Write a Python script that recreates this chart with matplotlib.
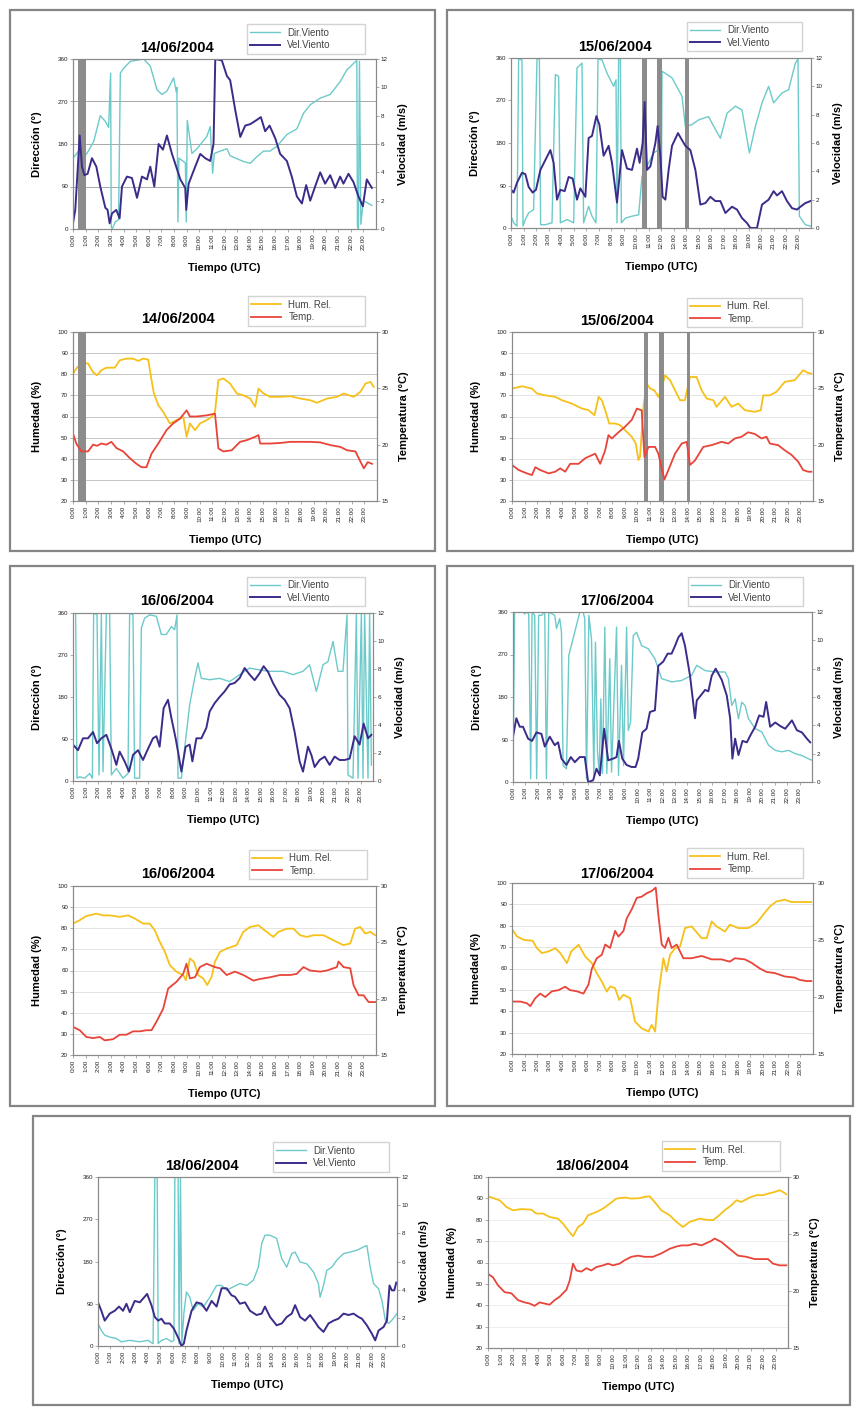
import matplotlib
matplotlib.use("Agg")
import matplotlib.pyplot as plt
from matplotlib.patches import Rectangle

plt.rcParams['font.family'] = ['Liberation Sans', 'DejaVu Sans']

W, H = 863, 1408

hours = list(range(24))
hour_labels = ['%d:00' % h for h in hours]

# ---- 14/06/2004 ----
d14_vel_t = [0, 0.18, 0.53, 0.71, 0.9, 1.16, 1.5, 1.85, 2.16, 2.56, 2.74, 2.9, 3.09, 3.43, 3.69, 3.88, 4.27, 4.67,
             5.07, 5.46, 5.86, 6.12, 6.44, 6.78, 7.12, 7.44, 7.84, 8.1, 8.5, 8.89, 8.97, 9.16, 9.68, 10.08, 10.47,
             10.87, 11.13, 11.27, 11.79, 12.19, 12.45, 12.85, 13.25, 13.64, 14.04, 14.56, 14.88, 15.22, 15.57, 16.02,
             16.41, 16.94, 17.33, 17.73, 18.13, 18.47, 18.79, 19.18, 19.58, 19.97, 20.37, 20.77, 21.16, 21.42, 21.82,
             22.22, 22.61, 22.96, 23.27, 23.67]
d14_vel = [0.4, 1.35, 6.6, 4.4, 3.8, 3.9, 5.0, 4.4, 3.0, 1.5, 1.35, 0.4, 1.1, 1.35, 0.75, 3.0, 3.7, 3.6, 2.2, 3.7,
           3.5, 4.4, 3.0, 6.0, 5.6, 6.6, 5.3, 4.6, 3.5, 2.9, 1.35, 3.2, 4.4, 5.3, 5.0, 4.8, 6.0, 12.0, 11.9, 10.8,
           10.5, 8.4, 6.5, 7.3, 7.4, 7.7, 7.9, 6.9, 7.3, 6.4, 5.3, 4.8, 3.7, 2.3, 1.8, 3.1, 2.0, 3.0, 4.0, 3.2,
           3.8, 2.9, 3.7, 3.2, 3.9, 3.3, 2.3, 1.6, 3.5, 2.9]
d14_dir_t = [0, 0.45, 0.71, 1.1, 1.64, 2.16, 2.56, 2.82, 2.98, 3.03, 3.11, 3.35, 3.61, 3.75, 4.0, 4.54, 5.6, 6.12,
             6.65, 7.04, 7.44, 7.97, 8.18, 8.23, 8.31, 8.39, 8.9, 8.97, 9.05, 9.42, 9.82, 10.6, 10.87, 11.06, 11.19,
             11.66, 12.19, 12.45, 13.5, 14.04, 14.56, 15.1, 15.6, 16.15, 16.94, 17.73, 18.26, 18.79, 19.58, 20.37,
             21.16, 21.69, 22.48, 22.53, 22.61, 22.69, 22.8, 23.0, 23.67]
d14_dir = [150, 165, 150, 160, 185, 240, 228, 215, 330, 5, 0, 15, 20, 330, 340, 355, 360, 345, 295, 285, 292, 320,
           290, 300, 15, 150, 140, 15, 230, 160, 170, 196, 217, 118, 160, 165, 170, 155, 143, 139, 153, 165, 165,
           175, 200, 212, 245, 263, 277, 285, 312, 337, 357, 5, 0, 355, 10, 60, 50]
d14_hum_t = [0, 0.26, 0.66, 1.19, 1.58, 1.9, 2.24, 2.64, 3.3, 3.69, 4.22, 4.75, 5.15, 5.54, 5.94, 6.2, 6.39, 6.73,
             7.12, 7.65, 8.18, 8.71, 8.97, 9.23, 9.63, 10.03, 10.55, 10.95, 11.21, 11.48, 11.87, 12.4, 12.93, 13.46,
             13.98, 14.38, 14.64, 15.04, 15.57, 16.36, 17.15, 17.94, 18.73, 19.26, 20.05, 20.84, 21.37, 22.16, 22.69,
             23.09, 23.48, 23.75]
d14_hum = [80.3, 82.7, 85.4, 85.1, 81, 79.5, 81.9, 83.1, 83.1, 86.6, 87.4, 87.4, 86.3, 87.4, 86.9, 77.2, 70.9, 65.4,
           62.2, 56.7, 58.3, 59.8, 50.4, 56.7, 53.5, 56.7, 58.3, 59.8, 62.2, 77.2, 78, 75.6, 70.9, 70, 68.5, 64.6,
           73.2, 70.9, 69.3, 69.3, 69.6, 68.5, 67.7, 66.5, 68.5, 69.3, 70.9, 69.3, 71.7, 75.6, 76.4, 74]
d14_tmp_t = [0, 0.26, 0.66, 1.19, 1.58, 1.9, 2.24, 2.64, 3.03, 3.43, 3.96, 4.49, 5.01, 5.41, 5.8, 6.2, 6.73, 7.39,
             7.92, 8.44, 8.97, 9.23, 9.76, 10.55, 11.21, 11.48, 11.87, 12.53, 13.19, 13.72, 14.38, 14.64, 14.78,
             15.57, 16.36, 17.15, 17.94, 18.73, 19.53, 20.32, 21.11, 21.64, 22.3, 22.69, 22.96, 23.27, 23.61]
d14_tmp = [21.0, 20.1, 19.4, 19.4, 20.0, 19.9, 20.1, 20.0, 20.25, 19.7, 19.4, 18.8, 18.3, 18.0, 18.0, 19.2, 20.1,
           21.3, 21.9, 22.3, 23.05, 22.5, 22.5, 22.6, 22.75, 19.66, 19.4, 19.5, 20.25, 20.4, 20.7, 20.85, 20.1, 20.1,
           20.15, 20.25, 20.25, 20.25, 20.2, 19.96, 19.8, 19.5, 19.4, 18.5, 17.9, 18.45, 18.3]
d14_bars = [(0.4, 1.0)]

# ---- 15/06/2004 ----
d15_vel_t = [0, 0.21, 0.48, 0.88, 1.15, 1.41, 1.73, 2.0, 2.35, 2.75, 3.15, 3.41, 3.68, 3.95, 4.29, 4.61, 4.93, 5.28,
             5.55, 5.95, 6.21, 6.48, 6.83, 7.07, 7.41, 7.81, 8.08, 8.48, 8.88, 9.28, 9.68, 10.08, 10.29, 10.53, 10.69,
             10.88, 11.15, 11.55, 11.73, 11.95, 12.13, 12.35, 12.61, 12.88, 13.36, 13.68, 13.95, 14.35, 14.75, 15.15,
             15.55, 15.95, 16.35, 16.75, 17.15, 17.68, 18.08, 18.48, 18.88, 19.15, 19.68, 20.08, 20.61, 21.01, 21.28,
             21.68, 22.08, 22.48, 22.88, 23.15, 23.55, 23.95]
d15_vel = [2.7, 2.5, 3.2, 3.9, 3.8, 2.9, 2.5, 2.7, 4.1, 4.8, 5.5, 4.6, 2.0, 2.7, 2.6, 3.6, 3.5, 2.0, 2.8, 2.2, 6.35,
           6.5, 7.9, 7.3, 5.1, 5.8, 4.6, 1.8, 5.5, 4.2, 4.1, 5.6, 4.6, 6.0, 8.9, 4.1, 4.35, 6.0, 7.2, 5.1, 2.2, 2.0,
           4.1, 5.8, 6.7, 6.2, 5.8, 5.5, 4.1, 1.65, 1.76, 2.2, 1.9, 1.9, 1.06, 1.5, 1.3, 0.7, 0.35, 0, 0, 1.65, 2.0,
           2.6, 2.3, 2.6, 1.9, 1.4, 1.3, 1.5, 1.76, 1.9]
d15_dir_t = [0, 0.21, 0.48, 0.61, 0.88, 0.96, 1.15, 1.41, 1.81, 2.08, 2.27, 2.37, 2.75, 3.28, 3.55, 3.81, 3.95, 4.48,
             5.01, 5.28, 5.68, 5.81, 6.21, 6.48, 6.8, 6.96, 7.28, 7.68, 8.21, 8.4, 8.48, 8.61, 8.75, 8.83, 9.15, 9.68,
             10.21, 10.48, 10.88, 11.41, 11.81, 12.03, 12.08, 12.88, 13.68, 13.95, 14.48, 15.01, 15.81, 16.08, 16.75,
             17.28, 17.95, 18.48, 19.07, 19.55, 20.08, 20.61, 21.01, 21.68, 22.21, 22.75, 22.96, 23.07, 23.55, 23.95]
d15_dir = [25, 11, 4, 358, 356, 4, 18, 32, 39, 358, 358, 7, 7, 11, 325, 321, 11, 18, 11, 339, 349, 11, 46, 25, 11,
           358, 356, 328, 300, 314, 11, 358, 358, 11, 21, 25, 28, 109, 131, 159, 166, 67, 332, 318, 279, 215, 219,
           229, 236, 222, 190, 243, 258, 250, 159, 215, 265, 300, 265, 286, 293, 349, 358, 25, 7, 4]
d15_hum_t = [0, 0.8, 1.59, 1.99, 2.65, 3.45, 3.98, 4.77, 5.57, 6.1, 6.58, 6.9, 7.16, 7.43, 7.75, 8.22, 8.62, 9.02,
             9.55, 9.87, 10.08, 10.21, 10.48, 10.74, 11.01, 11.35, 11.67, 11.88, 12.2, 12.6, 13.0, 13.4, 13.79, 14.19,
             14.72, 15.12, 15.52, 16.05, 16.31, 16.98, 17.51, 18.04, 18.57, 19.36, 19.84, 20.03, 20.56, 21.09, 21.75,
             22.55, 23.21, 23.61, 23.87]
d15_hum = [73.2, 74.3, 73.2, 70.9, 70, 69.3, 67.7, 66.1, 63.8, 63, 60.6, 69.3, 67.7, 63, 56.7, 56.7, 55.9, 53.5,
           50.4, 47.2, 39.4, 41, 64.6, 75.6, 73.2, 72.4, 69.3, 72.4, 79.5, 77.2, 72.4, 67.7, 67.7, 78.7, 78.7, 72.4,
           68.5, 67.7, 64.6, 69.3, 64.6, 66.1, 63, 62.2, 63, 70, 70, 71.7, 76.4, 77.2, 81.9, 80.6, 80.3]
d15_tmp_t = [0, 0.53, 1.19, 1.59, 1.86, 2.25, 2.92, 3.45, 3.85, 4.24, 4.64, 5.31, 5.84, 6.63, 7.03, 7.43, 7.69, 7.96,
             8.49, 9.02, 9.55, 9.95, 10.34, 10.56, 10.88, 11.41, 11.67, 12.15, 12.47, 13.0, 13.53, 13.93, 14.19,
             14.59, 15.25, 15.92, 16.71, 17.24, 17.77, 18.3, 18.83, 19.36, 19.89, 20.29, 20.56, 21.22, 21.75, 22.28,
             22.81, 23.21, 23.61, 23.87]
d15_tmp = [18.2, 17.75, 17.45, 17.3, 18.0, 17.75, 17.45, 17.6, 17.9, 17.6, 18.3, 18.3, 18.8, 19.2, 18.3, 19.5, 20.85,
           20.55, 21.1, 21.6, 22.2, 23.2, 23.05, 18.9, 19.8, 19.8, 19.2, 16.9, 17.75, 19.2, 20.1, 20.25, 18.2, 18.6,
           19.8, 19.96, 20.25, 20.1, 20.55, 20.7, 21.1, 20.95, 20.55, 20.7, 20.1, 19.96, 19.5, 19.1, 18.5, 17.75,
           17.6, 17.6]
d15_bars = [(10.5, 10.85), (11.7, 12.1), (13.92, 14.2)]

# ---- 16/06/2004 ----
d16_vel_t = [0, 0.4, 0.8, 1.2, 1.6, 1.92, 2.27, 2.67, 3.07, 3.47, 3.73, 4.13, 4.48, 4.8, 5.2, 5.6, 6.0, 6.4, 6.67,
             6.93, 7.25, 7.6, 7.87, 8.21, 8.4, 8.67, 9.01, 9.33, 9.55, 9.87, 10.27, 10.67, 10.93, 11.33, 11.73, 12.13,
             12.53, 12.93, 13.33, 13.73, 14.13, 14.53, 14.93, 15.25, 15.6, 16.0, 16.53, 16.93, 17.33, 17.73, 18.13,
             18.4, 18.8, 19.07, 19.33, 19.73, 20.13, 20.53, 20.93, 21.33, 21.73, 22.13, 22.53, 22.93, 23.25, 23.6,
             23.87]
d16_vel = [2.6, 2.2, 3.05, 3.05, 3.5, 2.7, 3.05, 3.3, 2.3, 1.15, 2.1, 1.4, 0.67, 1.86, 2.2, 1.5, 2.3, 3.05, 3.2,
           2.45, 5.2, 5.8, 4.5, 3.05, 2.1, 0.67, 2.45, 2.6, 1.4, 3.05, 3.05, 3.8, 4.96, 5.56, 6.0, 6.4, 6.9, 7.0,
           7.35, 8.07, 7.6, 7.2, 7.7, 8.2, 7.8, 7.0, 6.15, 5.8, 5.2, 3.5, 1.4, 0.67, 2.45, 1.86, 1.0, 1.5, 1.74,
           1.15, 1.74, 1.5, 1.5, 1.6, 3.2, 2.6, 4.1, 3.05, 3.3]
d16_dir_t = [0, 0.21, 0.32, 0.53, 0.93, 1.33, 1.55, 1.65, 1.92, 2.08, 2.27, 2.4, 2.67, 2.93, 3.07, 3.47, 4.0, 4.4,
             4.53, 4.8, 4.93, 5.33, 5.47, 5.73, 6.13, 6.67, 7.07, 7.47, 7.87, 8.13, 8.32, 8.4, 8.67, 8.93, 9.33, 9.73,
             10.0, 10.27, 10.93, 11.73, 12.53, 13.33, 14.13, 14.93, 15.73, 16.8, 17.6, 18.4, 18.93, 19.47, 20.0, 20.4,
             20.8, 21.2, 21.6, 21.92, 22.0, 22.4, 22.67, 22.8, 23.07, 23.2, 23.33, 23.6, 23.73, 23.87]
d16_dir = [360, 360, 6, 9, 6, 16, 6, 360, 356, 13, 360, 20, 360, 360, 13, 27, 6, 16, 360, 356, 6, 6, 328, 349, 356,
           353, 314, 314, 331, 324, 356, 6, 6, 70, 163, 220, 253, 220, 217, 220, 213, 228, 242, 238, 235, 235, 228,
           235, 249, 192, 249, 256, 299, 235, 235, 356, 13, 6, 360, 6, 360, 6, 360, 6, 360, 34]
d16_hum_t = [0, 0.53, 1.06, 1.85, 2.38, 2.91, 3.7, 4.37, 4.89, 5.56, 6.08, 6.48, 6.88, 7.28, 7.67, 8.2, 8.73, 8.94,
             9.26, 9.58, 9.92, 10.32, 10.63, 10.98, 11.24, 11.64, 12.17, 12.96, 13.49, 14.02, 14.68, 15.34, 15.87,
             16.27, 16.93, 17.46, 17.99, 18.52, 19.05, 19.84, 20.37, 20.9, 21.43, 21.96, 22.35, 22.75, 23.15, 23.54,
             23.94]
d16_hum = [82.2, 83.8, 85.8, 86.9, 86.1, 86.1, 85.4, 86.1, 84.6, 82.2, 82.2, 79, 73.5, 68.8, 62.5, 59.4, 57.8, 55.4,
           65.7, 64.1, 57.8, 56.2, 53.1, 57, 64.1, 68.8, 70.4, 72, 78.3, 80.6, 81.4, 78.3, 75.9, 78.3, 79.8, 79.8,
           76.7, 75.9, 76.7, 76.7, 75.1, 73.5, 72, 72.8, 79.8, 80.6, 77.5, 78.3, 76.7]
d16_tmp_t = [0, 0.53, 1.06, 1.59, 2.12, 2.51, 3.17, 3.7, 4.23, 4.76, 5.29, 5.82, 6.22, 6.61, 7.14, 7.54, 8.2, 8.73,
             8.99, 9.26, 9.66, 10.05, 10.58, 11.24, 11.64, 12.17, 12.83, 13.49, 14.29, 14.81, 15.61, 16.4, 17.2,
             17.72, 18.25, 18.78, 19.58, 20.11, 20.9, 21.03, 21.43, 21.96, 22.22, 22.62, 23.02, 23.41, 23.94]
d16_tmp = [17.5, 17.2, 16.6, 16.5, 16.6, 16.3, 16.4, 16.8, 16.8, 17.1, 17.1, 17.2, 17.2, 17.95, 19.1, 20.9, 21.5,
           22.2, 23.1, 21.8, 21.9, 22.8, 23.1, 22.8, 22.7, 22.1, 22.4, 22.1, 21.6, 21.75, 21.9, 22.1, 22.1, 22.2,
           22.8, 22.5, 22.4, 22.5, 22.8, 23.3, 22.8, 22.7, 21.2, 20.3, 20.3, 19.7, 19.7]
d16_bars = []

# ---- 17/06/2004 ----
d17_vel_t = [0, 0.27, 0.54, 0.8, 1.21, 1.53, 1.88, 2.28, 2.55, 2.95, 3.35, 3.62, 3.89, 4.29, 4.64, 4.96, 5.36, 5.76,
             6.03, 6.43, 6.7, 6.97, 7.32, 7.64, 8.04, 8.31, 8.5, 8.77, 9.12, 9.52, 9.84, 10.05, 10.38, 10.72, 10.99,
             11.39, 11.66, 12.06, 12.41, 12.73, 13.0, 13.27, 13.54, 13.81, 14.21, 14.61, 14.75, 15.15, 15.42, 15.68,
             15.95, 16.27, 16.76, 17.16, 17.43, 17.61, 17.83, 18.1, 18.42, 18.77, 19.12, 19.44, 19.76, 20.11, 20.32,
             20.64, 21.05, 21.45, 21.85, 22.39, 22.79, 23.19, 23.59, 23.86]
d17_vel = [3.2, 4.5, 3.9, 3.9, 3.06, 2.9, 3.5, 3.4, 2.5, 3.2, 2.6, 2.8, 1.65, 1.2, 1.76, 1.4, 1.76, 1.76, 0, 0.12,
           0.94, 0.47, 3.76, 1.53, 1.65, 1.76, 2.9, 1.65, 1.2, 1.06, 1.06, 1.65, 3.5, 3.76, 4.94, 5.06, 8.2, 8.5,
           9.06, 9.06, 9.6, 10.2, 10.5, 9.6, 7.5, 4.5, 5.76, 6.2, 6.5, 6.4, 7.5, 8.0, 7.2, 6.1, 4.5, 1.65, 3.06, 1.9,
           2.9, 2.8, 3.4, 3.9, 4.7, 4.6, 5.65, 3.9, 4.2, 3.95, 3.76, 4.35, 3.65, 3.5, 3.06, 2.8]
d17_dir_t = [0, 0.13, 0.8, 0.94, 1.07, 1.26, 1.42, 1.53, 1.74, 1.9, 2.06, 2.28, 2.55, 2.68, 2.87, 3.35, 3.49, 3.75,
             3.89, 4.02, 4.29, 4.48, 4.96, 5.36, 5.63, 5.76, 5.9, 6.09, 6.3, 6.49, 6.62, 6.78, 6.92, 7.05, 7.18, 7.37,
             7.53, 7.77, 7.91, 8.31, 8.47, 8.71, 8.87, 9.12, 9.25, 9.44, 9.65, 9.92, 10.32, 10.86, 11.39, 11.93,
             12.73, 13.54, 14.34, 14.75, 15.42, 16.22, 17.02, 17.29, 17.56, 17.83, 18.1, 18.36, 18.63, 18.9, 19.44,
             19.97, 20.51, 21.05, 21.58, 22.12, 22.65, 23.19, 23.73, 24.0]
d17_dir = [7, 360, 360, 356, 360, 356, 7, 360, 353, 7, 353, 353, 360, 7, 360, 353, 325, 346, 318, 35, 28, 268, 318,
           360, 360, 346, 7, 353, 303, 14, 296, 64, 21, 176, 18, 328, 18, 261, 21, 328, 14, 247, 35, 328, 109, 127,
           310, 317, 289, 282, 261, 219, 212, 215, 226, 247, 236, 233, 233, 219, 162, 176, 134, 169, 162, 134, 113,
           106, 78, 67, 64, 67, 60, 56, 49, 46]
d17_hum_t = [0, 0.4, 0.93, 1.64, 1.99, 2.39, 2.92, 3.45, 3.85, 4.38, 4.72, 5.31, 5.84, 6.37, 6.76, 7.16, 7.56, 7.82,
             8.22, 8.54, 8.89, 9.42, 9.81, 10.34, 10.88, 11.14, 11.41, 11.67, 12.07, 12.33, 12.6, 13.0, 13.4, 13.79,
             14.32, 15.12, 15.52, 15.92, 16.31, 16.98, 17.37, 18.04, 18.83, 19.5, 20.03, 20.56, 21.09, 21.75, 22.28,
             23.08, 23.87]
d17_hum = [78.4, 75, 73.4, 73, 69.5, 67.2, 68, 69.5, 67.2, 62.5, 68, 71.1, 65.6, 62.5, 57.8, 53.9, 49.2, 51.6, 50.8,
           45.3, 47.7, 46.1, 35.2, 32, 30.5, 33.6, 30.5, 47.7, 64.8, 58.6, 66.4, 69.5, 70.3, 78.9, 79.7, 74.2, 74.2,
           82, 79.7, 77.3, 80.5, 78.9, 78.9, 81.25, 85.2, 89, 91.4, 92.2, 91.1, 91.1, 91.1]
d17_tmp_t = [0, 0.66, 1.19, 1.46, 1.86, 2.25, 2.65, 3.18, 3.71, 4.24, 4.64, 5.17, 5.7, 6.1, 6.37, 6.76, 7.16, 7.43,
             7.82, 8.22, 8.49, 8.89, 9.15, 9.55, 9.95, 10.34, 10.74, 11.14, 11.46, 11.67, 11.94, 12.2, 12.47, 12.73,
             13.13, 13.66, 14.32, 15.12, 15.92, 16.71, 17.37, 17.77, 18.57, 19.1, 19.76, 20.29, 20.95, 21.75, 22.55,
             22.94, 23.47, 23.87]
d17_tmp = [19.6, 19.6, 19.45, 19.2, 19.9, 20.3, 20.0, 20.5, 20.6, 20.9, 20.6, 20.5, 20.3, 21.1, 22.5, 23.4, 23.7,
           24.6, 24.3, 25.8, 25.3, 25.8, 26.9, 27.7, 28.7, 28.8, 29.1, 29.3, 29.6, 27.2, 24.6, 24.3, 25.2, 24.3,
           24.6, 23.4, 23.4, 23.6, 23.3, 23.3, 23.1, 23.4, 23.3, 23.0, 22.5, 22.2, 22.1, 21.8, 21.7, 21.5, 21.4, 21.4]
d17_bars = []

# ---- 18/06/2004 ----
d18_vel_t = [0, 0.27, 0.54, 0.94, 1.34, 1.69, 2.01, 2.28, 2.55, 2.95, 3.35, 3.75, 3.94, 4.29, 4.56, 4.83, 5.09,
             5.36, 5.76, 6.09, 6.43, 6.7, 6.89, 7.1, 7.51, 7.91, 8.31, 8.71, 9.12, 9.52, 9.92, 10.32, 10.72, 10.99,
             11.39, 11.8, 12.2, 12.73, 13.14, 13.4, 13.81, 14.34, 14.75, 15.15, 15.55, 15.82, 16.22, 16.62, 17.02,
             17.43, 17.69, 18.1, 18.5, 18.9, 19.3, 19.71, 20.11, 20.51, 20.91, 21.18, 21.58, 21.98, 22.25, 22.52,
             22.92, 23.19, 23.4, 23.59, 23.78, 23.94]
d18_vel = [3.1, 2.5, 1.8, 2.3, 2.5, 2.8, 2.5, 3.0, 2.4, 3.2, 3.1, 3.5, 3.7, 2.9, 2.06, 1.8, 1.94, 1.6, 1.6, 1.23,
           0.6, 0, 0.17, 1.1, 2.5, 3.1, 3.0, 2.5, 3.2, 2.8, 4.1, 4.1, 3.6, 3.5, 3.0, 3.1, 2.5, 2.2, 2.3, 2.8, 2.06,
           1.47, 1.6, 2.06, 2.3, 2.9, 2.06, 1.8, 2.2, 1.7, 1.35, 1.0, 1.6, 1.8, 1.94, 2.3, 2.2, 2.3, 2.06, 1.94,
           1.47, 0.88, 0.4, 1.1, 1.35, 1.8, 4.3, 3.95, 3.95, 4.5]
d18_dir_t = [0, 0.27, 0.54, 0.94, 1.47, 1.88, 2.55, 3.35, 4.02, 4.42, 4.56, 4.75, 4.83, 5.09, 5.5, 5.9, 6.09, 6.17,
             6.43, 6.51, 6.62, 6.73, 6.89, 7.1, 7.37, 7.64, 8.04, 8.45, 8.98, 9.52, 9.92, 10.32, 10.86, 11.39, 11.93,
             12.47, 12.87, 13.14, 13.4, 13.81, 14.34, 14.75, 15.15, 15.55, 15.82, 16.22, 16.76, 17.29, 17.69, 17.83,
             18.1, 18.36, 18.77, 19.17, 19.71, 20.24, 20.78, 21.31, 21.58, 21.85, 22.12, 22.52, 22.79, 23.06, 23.32,
             23.59, 24.0]
d18_dir = [48, 33, 23, 19, 16, 9, 12, 9, 12, 5, 360, 360, 5, 12, 16, 9, 12, 360, 360, 5, 360, 5, 69, 115, 104, 76,
           90, 83, 104, 129, 129, 119, 126, 133, 129, 140, 168, 218, 236, 236, 229, 186, 168, 197, 200, 179, 175,
           158, 133, 104, 129, 161, 168, 183, 197, 200, 204, 211, 214, 168, 133, 122, 97, 55, 48, 55, 69]
d18_hum_t = [0, 0.53, 0.93, 1.47, 2.0, 2.67, 3.47, 3.87, 4.4, 4.93, 5.6, 6.0, 6.4, 6.8, 7.2, 7.6, 8.0, 8.67, 9.2,
             9.73, 10.27, 10.93, 11.47, 12.13, 12.53, 12.93, 13.33, 13.87, 14.53, 15.07, 15.6, 16.13, 16.93, 17.47,
             18.0, 18.4, 18.93, 19.47, 19.87, 20.27, 20.93, 21.47, 22.0, 22.4, 22.93, 23.33, 23.6, 23.87]
d18_hum = [91, 89.9, 89.1, 86, 84.4, 85, 84.7, 82.9, 82.9, 81.3, 80.5, 78.2, 75.1, 72.3, 76.6, 78.2, 82.1, 83.6,
           85.2, 87.5, 89.9, 90.4, 89.9, 90.1, 90.7, 91, 88.3, 84.4, 82.1, 79, 76.6, 79, 80.5, 80, 79.8, 81.6, 84.4,
           86.8, 89.1, 88.3, 90.4, 91.5, 91.5, 92.2, 93, 93.8, 93, 91.9]
d18_tmp_t = [0, 0.4, 0.8, 1.33, 1.87, 2.4, 2.93, 3.33, 3.73, 4.13, 4.53, 4.93, 5.33, 5.73, 6.27, 6.53, 6.8, 7.07,
             7.47, 7.87, 8.27, 8.67, 9.2, 9.6, 10.0, 10.53, 10.93, 11.47, 12.0, 12.53, 13.2, 13.87, 14.53, 15.07,
             15.47, 16.0, 16.53, 17.07, 17.47, 17.87, 18.13, 18.67, 19.33, 20.0, 20.67, 21.33, 22.0, 22.4, 22.8,
             23.33, 23.87]
d18_tmp = [21.5, 21.2, 20.5, 19.9, 19.8, 19.2, 19.0, 18.9, 18.7, 19.0, 18.9, 18.8, 19.2, 19.5, 20.1, 20.9, 22.4,
           21.8, 21.7, 22.0, 21.8, 22.1, 22.25, 22.4, 22.25, 22.4, 22.7, 23.0, 23.1, 23.0, 23.0, 23.3, 23.7, 23.9,
           24.0, 24.0, 24.15, 24.0, 24.2, 24.4, 24.6, 24.3, 23.7, 23.1, 23.0, 22.8, 22.8, 22.8, 22.4, 22.25, 22.25]
d18_bars = []

C_DIR = '#6ccaca'
C_VEL = '#3b2c8a'
C_HUM = '#f6c11a'
C_TMP = '#e8443a'
C_BAR = '#8c8c8c'
C_SPINE = '#8a8a8a'


def box(l, t, r, b):
    return [l / W, 1 - b / H, (r - l) / W, (b - t) / H]


def pair(t, v):
    n = min(len(t), len(v))
    return t[:n], v[:n]


def dress(ax, ax2, width, height, grid_color):
    for a in (ax, ax2):
        for s in a.spines.values():
            s.set_color(C_SPINE)
            s.set_linewidth(0.8)
        a.tick_params(axis='both', labelsize=4.5, length=2, width=0.5, color=C_SPINE, pad=1.5, labelcolor='#222')
    ax.set_xlim(0, 24)
    ax.set_xticks(hours)
    ax.set_xticklabels(hour_labels, rotation=90)
    ax.set_xlabel('Tiempo (UTC)', fontsize=8, fontweight='bold')
    ax.xaxis.set_label_coords(0.5, -34 / height)
    if grid_color:
        ax.yaxis.grid(True, color=grid_color, lw=0.7)
        ax.set_axisbelow(True)
    ax.yaxis.set_label_coords(-31 / width, 0.5)
    ax2.yaxis.set_label_coords(1 + 22 / width, 0.5)


def add_legend(fig, ax2, handles, labels, rect):
    ax2.legend(handles, labels, loc='center', bbox_to_anchor=box(*rect), bbox_transform=fig.transFigure,
               mode='expand', fontsize=7, frameon=True, fancybox=False, edgecolor='#c8c8c8',
               handlelength=3.0, borderaxespad=0, labelspacing=0.25, borderpad=0.35, labelcolor='#444')


def wind_chart(fig, rect, title, tpos, leg, dir_t, dirs, vel_t, vels, bars, grid=None):
    ax = fig.add_axes(box(*rect))
    ax2 = ax.twinx()
    t, v = pair(dir_t, dirs)
    l1, = ax.plot(t, v, color=C_DIR, lw=1.0, zorder=2)
    for a, b in bars:
        ax.axvspan(a, b, color=C_BAR, lw=0, zorder=3)
    t, v = pair(vel_t, vels)
    l2, = ax2.plot(t, v, color=C_VEL, lw=1.4)
    ax.set_ylim(0, 360)
    ax.set_yticks([0, 90, 180, 270, 360])
    ax2.set_ylim(0, 12)
    ax2.set_yticks(range(0, 13, 2))
    ax.set_ylabel('Dirección (°)', fontsize=8, fontweight='bold')
    ax2.set_ylabel('Velocidad (m/s)', fontsize=8, fontweight='bold')
    dress(ax, ax2, rect[2] - rect[0], rect[3] - rect[1], grid)
    fig.text(tpos[0] / W, 1 - tpos[1] / H, title, ha='center', va='center', fontsize=10.5, fontweight='bold')
    add_legend(fig, ax2, [l1, l2], ['Dir.Viento', 'Vel.Viento'], leg)


def hum_chart(fig, rect, title, tpos, leg, hum_t, hums, tmp_t, tmps, bars, grid='#e4e4e4'):
    ax = fig.add_axes(box(*rect))
    ax2 = ax.twinx()
    t, v = pair(hum_t, hums)
    l1, = ax.plot(t, v, color=C_HUM, lw=1.3, zorder=2)
    for a, b in bars:
        ax.axvspan(a, b, color=C_BAR, lw=0, zorder=3)
    t, v = pair(tmp_t, tmps)
    l2, = ax2.plot(t, v, color=C_TMP, lw=1.3)
    ax.set_ylim(20, 100)
    ax.set_yticks(range(20, 101, 10))
    ax2.set_ylim(15, 30)
    ax2.set_yticks([15, 20, 25, 30])
    ax.set_ylabel('Humedad (%)', fontsize=8, fontweight='bold')
    ax2.set_ylabel('Temperatura (°C)', fontsize=8, fontweight='bold')
    dress(ax, ax2, rect[2] - rect[0], rect[3] - rect[1], grid)
    fig.text(tpos[0] / W, 1 - tpos[1] / H, title, ha='center', va='center', fontsize=10.5, fontweight='bold')
    add_legend(fig, ax2, [l1, l2], ['Hum. Rel.', 'Temp.'], leg)


fig = plt.figure(figsize=(W / 100, H / 100), dpi=100)

# panel frames
for l, t, r, b in [(10, 10, 435, 551), (447, 10, 853, 551), (10, 566, 435, 1106), (447, 566, 853, 1106),
                   (33, 1116, 850, 1405)]:
    fig.patches.append(Rectangle((l / W, 1 - b / H), (r - l) / W, (b - t) / H, transform=fig.transFigure,
                                 fill=False, edgecolor='#858585', lw=1.6))

wind_chart(fig, (73, 59, 376, 229), '14/06/2004', (177, 48), (247, 23, 365, 55),
           d14_dir_t, d14_dir, d14_vel_t, d14_vel, d14_bars, grid='#a8a8a8')
hum_chart(fig, (73, 332, 377, 501), '14/06/2004', (178, 319), (248, 295, 365, 327),
          d14_hum_t, d14_hum, d14_tmp_t, d14_tmp, d14_bars, grid='#c4c4c4')
wind_chart(fig, (511, 58, 811, 228), '15/06/2004', (615, 47), (687, 20, 802, 53),
           d15_dir_t, d15_dir, d15_vel_t, d15_vel, d15_bars)
hum_chart(fig, (512, 332, 813, 501), '15/06/2004', (617, 321), (687, 295, 802, 330),
          d15_hum_t, d15_hum, d15_tmp_t, d15_tmp, d15_bars)
wind_chart(fig, (73, 613, 373, 781), '16/06/2004', (177, 601), (247, 575, 365, 608),
           d16_dir_t, d16_dir, d16_vel_t, d16_vel, d16_bars)
hum_chart(fig, (73, 886, 376, 1055), '16/06/2004', (178, 874), (249, 848, 367, 881),
          d16_hum_t, d16_hum, d16_tmp_t, d16_tmp, d16_bars)
wind_chart(fig, (513, 612, 812, 782), '17/06/2004', (617, 601), (688, 575, 803, 608),
           d17_dir_t, d17_dir, d17_vel_t, d17_vel, d17_bars)
hum_chart(fig, (512, 883, 813, 1054), '17/06/2004', (617, 874), (687, 847, 803, 879),
          d17_hum_t, d17_hum, d17_tmp_t, d17_tmp, d17_bars)
wind_chart(fig, (98, 1177, 397, 1346), '18/06/2004', (202, 1166), (273, 1141, 389, 1173),
           d18_dir_t, d18_dir, d18_vel_t, d18_vel, d18_bars)
hum_chart(fig, (488, 1177, 788, 1348), '18/06/2004', (592, 1166), (662, 1139, 780, 1173),
          d18_hum_t, d18_hum, d18_tmp_t, d18_tmp, d18_bars, grid='#efefef')

fig.savefig('out.png', dpi=100)
